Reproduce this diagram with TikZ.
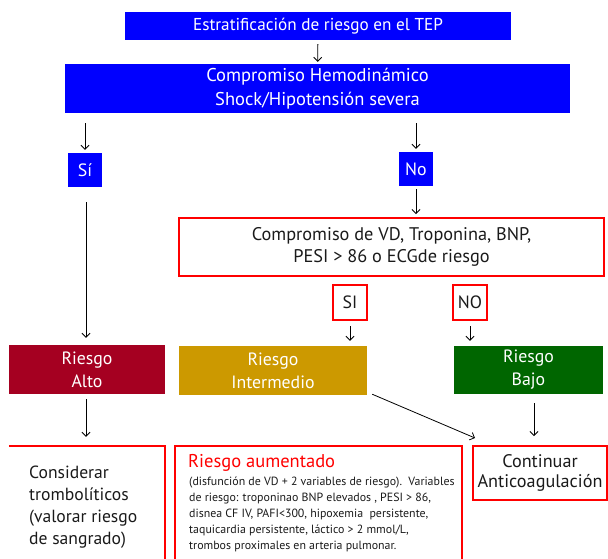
\documentclass[tikz,border=0pt]{standalone}
\usepackage{fontspec}
\setmainfont{PT Sans}
\usetikzlibrary{arrows.meta,calc}
\definecolor{hblue}{HTML}{0000FF}
\definecolor{hred}{HTML}{FF0000}
\definecolor{altoc}{HTML}{A50021}
\definecolor{interc}{HTML}{CC9900}
\definecolor{bajoc}{HTML}{006600}
\definecolor{txt}{HTML}{1A1A1A}
\begin{document}
\begin{tikzpicture}[x=1pt,y=-1pt,
  fillbox/.style={inner sep=0pt, text=white, align=center, font=\fontsize{17.8}{23}\selectfont},
  redbox/.style={draw=hred, line width=2pt, inner sep=0pt, align=center, text=txt},
  arr/.style={draw=black, line width=0.8pt, -{Straight Barb[length=4pt,width=8pt]}}]
\useasboundingbox (0,0) rectangle (608,558);

\node[fillbox, fill=hblue, minimum width=386pt, minimum height=28pt, font=\fontsize{17.2}{20}\selectfont] (t1) at (318,26) {Estratificación de riesgo en el TEP};
\node[fillbox, fill=hblue, minimum width=505pt, minimum height=49pt, font=\fontsize{18.5}{24}\selectfont] (t2) at (317.5,88.5) {Compromiso Hemodinámico\\Shock/Hipotensión severa};
\node[fillbox, fill=hblue, minimum width=34pt, minimum height=34pt] (si) at (85,170) {Sí};
\node[fillbox, fill=hblue, minimum width=34pt, minimum height=34pt] (no) at (416,169) {No};
\node[redbox, minimum width=425pt, minimum height=58pt, font=\fontsize{18.3}{22}\selectfont] (rb) at (391.5,247) {Compromiso de VD, Troponina, BNP,\\PESI > 86 o ECGde riesgo};
\node[redbox, minimum width=34pt, minimum height=35pt, font=\fontsize{17.8}{20}\selectfont] (sib) at (350,302.5) {SI};
\node[redbox, minimum width=34pt, minimum height=35pt, font=\fontsize{17.8}{20}\selectfont] (nob) at (470,302.5) {NO};
\node[fillbox, fill=altoc, minimum width=156pt, minimum height=49pt] (alto) at (87,369.5) {Riesgo\\Alto};
\node[fillbox, fill=interc, minimum width=188pt, minimum height=49pt] (inter) at (273,370.5) {Riesgo\\Intermedio};
\node[fillbox, fill=bajoc, minimum width=149pt, minimum height=48pt] (bajo) at (528.5,370) {Riesgo\\Bajo};

% bottom row
\node[minimum width=156pt, minimum height=134pt, inner sep=0pt] (lb) at (87,513) {};
\draw[hred, line width=2pt] (lb.north west) -- (lb.north east) -- (lb.south east);
\node[anchor=north west, inner sep=0pt, align=left, text=txt, font=\fontsize{17.6}{22}\selectfont] (lbt) at (29,466) {Considerar\\trombolíticos\\(valorar riesgo\\de sangrado)};

\node[redbox, minimum width=287pt, minimum height=134pt] (mb) at (318.5,513) {};
\node[anchor=north west, inner sep=0pt, align=left, text=hred, font=\fontsize{18.5}{20}\selectfont] (mbt) at (188,454) {Riesgo aumentado};
\node[anchor=north west, inner sep=0pt, align=left, text=txt, font=\fontsize{11.9}{16}\selectfont] (mbb) at (189,477) {(disfunción de VD + 2 variables de riesgo).\ \ Variables\\de riesgo: troponinao BNP elevados , PESI > 86,\\disnea CF IV, PAFI<300, hipoxemia\ \ persistente,\\taquicardia persistente, láctico > 2 mmol/L,\\trombos proximales en arteria pulmonar.};

\node[redbox, minimum width=134pt, minimum height=54pt, font=\fontsize{18.2}{20}\selectfont] (rbx) at (540,473) {Continuar\\Anticoagulación};

% connectors
\draw[arr, shorten <=4pt, shorten >=2pt] (t1) -- (t2);
\draw[arr, shorten <=10pt, shorten >=3pt] (si.north |- t2.south) -- (si.north);
\draw[arr, shorten <=10pt, shorten >=3pt] (no.north |- t2.south) -- (no.north);
\draw[arr, shorten <=3pt, shorten >=3pt] (no.south) -- (no.south |- rb.north);
\draw[arr, shorten <=15pt, shorten >=7pt] ([xshift=1pt]si.south) -- ([xshift=1pt]si.south |- alto.north);
\draw[arr, shorten <=5pt, shorten >=5pt] (sib.south) -- (sib.south |- inter.north);
\draw[arr, shorten <=5pt, shorten >=5pt] (nob.south) -- (nob.south |- bajo.north);
\draw[arr, shorten <=5pt, shorten >=9pt] ([xshift=-1pt]alto.south) -- ([xshift=-1pt]alto.south |- lb.north);
\draw[arr, shorten <=9pt, shorten >=9pt] ([xshift=5.5pt]bajo.south) -- ([xshift=5.5pt]bajo.south |- rbx.north);
\draw[arr] ($(inter.south east)+(5,-1)$) -- ($(rbx.north west)+(3,-7)$);
\end{tikzpicture}
\end{document}
